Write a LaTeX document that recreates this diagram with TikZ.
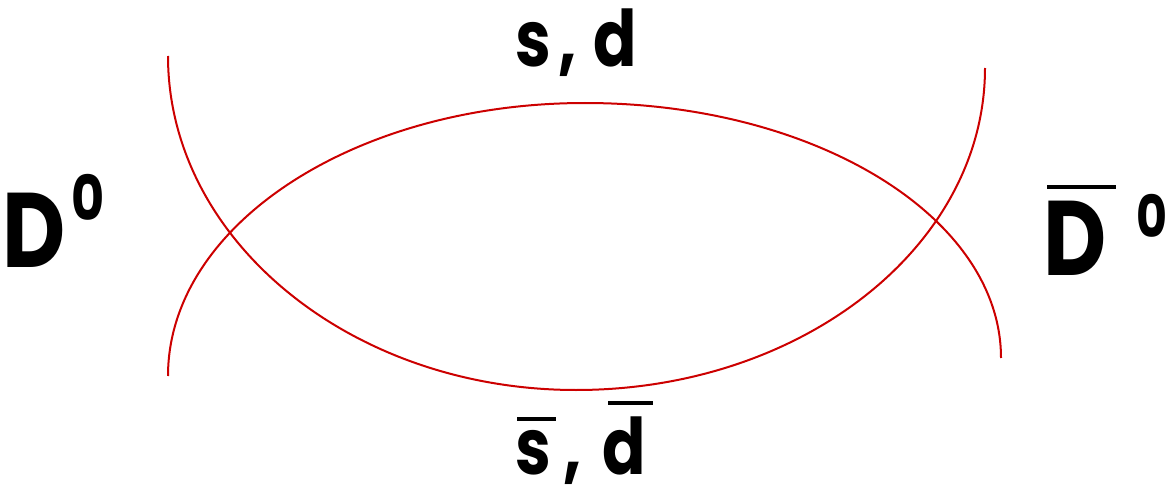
\documentclass[tikz,border=0pt]{standalone}
\usepackage{fontspec}
\newfontfamily\labelfont{Poppins}
\newfontfamily\narrowfont[FakeStretch=0.82]{Poppins}
\definecolor{linered}{HTML}{CC0000}
\newcommand\ovbar[4]{\leavevmode\vbox{\offinterlineskip\hbox{\kern#1\vrule height 4pt depth 0pt width #2}\kern#3\hbox{#4}}}
\tikzset{
  quark/.style={draw=linered, line width=2pt},
  lbl/.style={inner sep=0pt, outer sep=0pt, anchor=base west}
}
\begin{document}
\begin{tikzpicture}[x=1pt,y=-1pt]
\useasboundingbox (0,0) rectangle (1165,492);
% upper arc
\draw[quark] (168,376) .. controls (168,225) and (355,103) .. (585,103)
  .. controls (815,103) and (1001,217) .. (1001,358);
% lower arc
\draw[quark] (168,56) .. controls (168,240) and (351,390) .. (576,390)
  .. controls (802,390) and (985,246) .. (985,68);
% labels
\node[lbl, font=\narrowfont\bfseries\fontsize{106}{106}\selectfont] (d0) at (2,267)
  {D\kern6pt\raisebox{47pt}{\fontsize{62}{62}\selectfont 0}};
\node[lbl, font=\narrowfont\bfseries\fontsize{106}{106}\selectfont] (d0bar) at (1043,275)
  {\ovbar{4pt}{69pt}{12pt}{D}\kern20pt\raisebox{38pt}{\fontsize{58}{58}\selectfont 0}};
\node[lbl, font=\narrowfont\bfseries\fontsize{78}{78}\selectfont] (top) at (515,67) {s\kern8pt,\kern16pt d};
\node[lbl, font=\narrowfont\bfseries\fontsize{78}{78}\selectfont] (bot) at (515,474)
  {\ovbar{2pt}{39pt}{9pt}{s}\kern8pt,\kern20pt\ovbar{6pt}{45pt}{11pt}{d}};
\end{tikzpicture}
\end{document}
